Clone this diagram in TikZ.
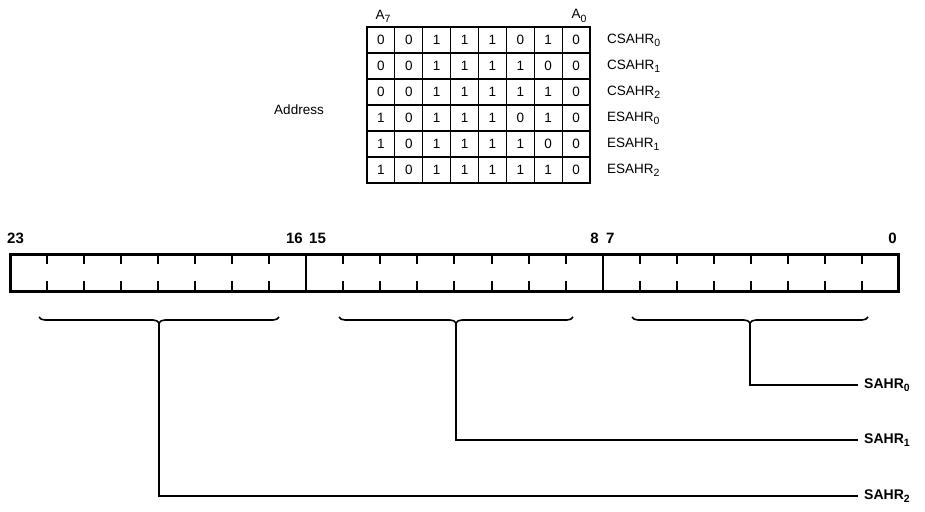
\documentclass[tikz,border=0pt]{standalone}
\usepackage{fontspec}
\setmainfont{Liberation Sans}
\usetikzlibrary{decorations.pathreplacing, positioning}

\newcommand{\bitw}{37.04}
\newcommand{\lowsub}[1]{\raisebox{-0.45ex}{\fontsize{10.5}{12}\selectfont #1}}

\begin{document}
\begin{tikzpicture}[x=1pt, y=-1pt,
  cell/.style={font=\fontsize{13.5}{15}\selectfont, inner sep=0pt},
  rowlbl/.style={font=\fontsize{13.5}{15}\selectfont, anchor=west, inner sep=0pt},
  bitnum/.style={font=\fontsize{15}{17}\selectfont\bfseries, inner sep=0pt},
  outlbl/.style={font=\fontsize{14}{16}\selectfont\bfseries, anchor=west, inner xsep=6pt},
  brc/.style={decorate, decoration={brace, mirror, amplitude=6pt}, line width=1.6pt},
  wire/.style={line width=1.6pt}]
\useasboundingbox (0,0) rectangle (925,511);
% ---------------- address table (top) ----------------
\draw[line width=1.4pt] (367,27) rectangle (590,183);
\foreach \i in {1,...,7}
  \draw[line width=1.1pt] (367+\i*27.875,27) -- (367+\i*27.875,183);
\foreach \j in {1,...,5}
  \draw[line width=1.1pt] (367,27+\j*26) -- (590,27+\j*26);
\foreach \bits/\name [count=\r] in {
    {0,0,1,1,1,0,1,0}/CSAHR\lowsub{0},
    {0,0,1,1,1,1,0,0}/CSAHR\lowsub{1},
    {0,0,1,1,1,1,1,0}/CSAHR\lowsub{2},
    {1,0,1,1,1,0,1,0}/ESAHR\lowsub{0},
    {1,0,1,1,1,1,0,0}/ESAHR\lowsub{1},
    {1,0,1,1,1,1,1,0}/ESAHR\lowsub{2}} {
  \foreach \b [count=\c] in \bits
    \node[cell] (cell\r\c) at (367+\c*27.875-13.94, 27+\r*26-13) {\b};
  \node[rowlbl] (row\r) at (607, 27+\r*26-13) {\name};
}
\node[cell] (amsb) at (383,16) {A\lowsub{7}};
\node[cell] (alsb) at (579,16) {A\lowsub{0}};
\node[cell] (addr) at (299,110) {Address};
% ---------------- 24-bit register ----------------
\draw[line width=3pt] (10,254) rectangle (898,291);
\foreach \s in {1,2}
  \draw[line width=2pt] (10+\s*8*\bitw,254) -- (10+\s*8*\bitw,291);
\foreach \s in {0,1,2}
  \foreach \i in {1,...,7} {
    \draw[line width=2pt] (10+\s*8*\bitw+\i*\bitw,254) -- ++(0,10);
    \draw[line width=2pt] (10+\s*8*\bitw+\i*\bitw,291) -- ++(0,-10);
  }
\node[bitnum, anchor=west] (b23) at (7,238) {23};
\node[bitnum, anchor=east] (b16) at (303,238) {16};
\node[bitnum, anchor=west] (b15) at (309,238) {15};
\node[bitnum, anchor=east] (b8) at (599,238) {8};
\node[bitnum, anchor=west] (b7) at (606,238) {7};
\node[bitnum, anchor=east] (b0) at (897,238) {0};
% ---------------- braces and outputs ----------------
\draw[brc] (39,317) -- (279,317);
\draw[brc] (339,317) -- (573,317);
\draw[brc] (632,317) -- (868,317);
\coordinate (tip2) at (159,323);
\coordinate (tip1) at (456,323);
\coordinate (tip0) at (750,323);
\node[outlbl] (sahr0) at (858,385) {SAHR\lowsub{0}};
\node[outlbl] (sahr1) at (858,440) {SAHR\lowsub{1}};
\node[outlbl] (sahr2) at (858,496) {SAHR\lowsub{2}};
\draw[wire] (tip0) |- (sahr0.west);
\draw[wire] (tip1) |- (sahr1.west);
\draw[wire] (tip2) |- (sahr2.west);
\end{tikzpicture}
\end{document}
